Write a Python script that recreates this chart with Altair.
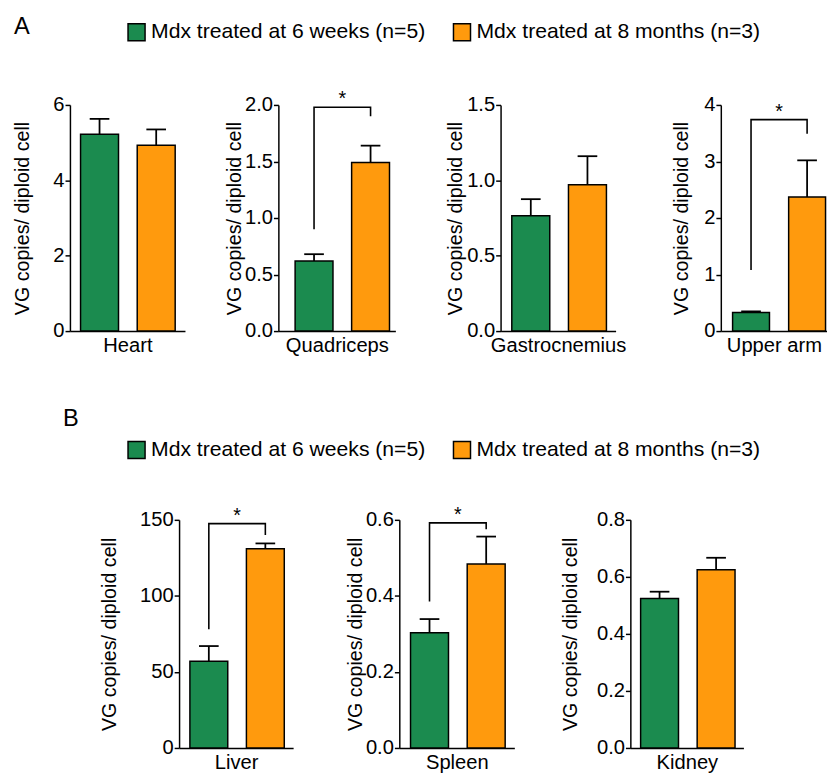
import altair as alt
import pandas as pd

FONT = "Liberation Sans"

# ---------------- data ----------------
GROUPS = ["Mdx treated at 6 weeks (n=5)", "Mdx treated at 8 months (n=3)"]
COLORS = ["#1b8b4f", "#ff9a0d"]

organs = ["Heart", "Quadriceps", "Gastrocnemius", "Upper arm", "Liver", "Spleen", "Kidney"]
mean_6wk = [5.22, 0.62, 0.765, 0.33, 57.0, 0.303, 0.524]
sem_6wk = [0.41, 0.06, 0.11, 0.02, 10.0, 0.036, 0.024]
mean_8mo = [4.93, 1.49, 0.97, 2.37, 131.0, 0.484, 0.625]
sem_8mo = [0.42, 0.15, 0.19, 0.65, 3.5, 0.072, 0.042]
y_max = [6, 2.0, 1.5, 4, 150, 0.6, 0.8]
y_ticks = [
    [0, 2, 4, 6],
    [0, 0.5, 1.0, 1.5, 2.0],
    [0, 0.5, 1.0, 1.5],
    [0, 1, 2, 3, 4],
    [0, 50, 100, 150],
    [0, 0.2, 0.4, 0.6],
    [0, 0.2, 0.4, 0.6, 0.8],
]
y_format = ["d", ".1f", ".1f", "d", "d", ".1f", ".1f"]

# significance brackets (*)
bracket_organs = ["Quadriceps", "Upper arm", "Liver", "Spleen"]
bracket_left = [0.90, 1.08, 78.0, 0.385]
bracket_top = [1.98, 3.74, 147.5, 0.592]
bracket_right = [1.90, 3.49, 140.0, 0.575]

Y_TITLE = "VG copies/ diploid cell"
H_A = 230
H_B = 232


def make_legend(ly):
    return alt.Legend(
        orient="none", legendX=57, legendY=ly, direction="horizontal", title=None,
        symbolType="square", symbolSize=300, symbolStrokeColor="black",
        symbolStrokeWidth=1.5, symbolOpacity=1, labelFontSize=21.5, labelFont=FONT,
        labelColor="black", labelOffset=4, columnPadding=25, labelLimit=400, padding=0,
    )


def panel(i, width, height, p_inner, p_outer, align, title_pad, legend_y):
    organ = organs[i]
    df = pd.DataFrame({
        "group": GROUPS,
        "mean": [mean_6wk[i], mean_8mo[i]],
        "top": [mean_6wk[i] + sem_6wk[i], mean_8mo[i] + sem_8mo[i]],
    })
    xscale = alt.Scale(domain=GROUPS, paddingInner=p_inner, paddingOuter=p_outer, align=align)
    yscale = alt.Scale(domain=[0, y_max[i]], nice=False, zero=True)
    xaxis = alt.Axis(
        labels=False, ticks=False, domainColor="black", domainWidth=1.5,
        titleFontSize=20.5, titleFontWeight="normal", titlePadding=5,
        titleColor="black", titleFont=FONT,
    )
    yaxis = alt.Axis(
        values=y_ticks[i], format=y_format[i], grid=False,
        domainColor="black", domainWidth=1.5, tickColor="black", tickWidth=1.5,
        tickSize=5, labelFontSize=20.5, labelFont=FONT, labelColor="black",
        labelPadding=1, labelFlush=False, labelOverlap=False,
        titleFontSize=20, titleFont=FONT, titleFontWeight="normal",
        titleColor="black", titlePadding=title_pad,
    )
    x = alt.X("group:N", scale=xscale, axis=xaxis, title=organ)

    def yenc(field):
        return alt.Y(field, scale=yscale, axis=yaxis, title=Y_TITLE)

    base = alt.Chart(df)
    bars = base.mark_bar(stroke="black", strokeWidth=1.5).encode(
        x=x, y=yenc("mean:Q"),
        color=alt.Color("group:N", scale=alt.Scale(domain=GROUPS, range=COLORS),
                        legend=make_legend(legend_y)),
    )
    err = base.mark_rule(color="black", strokeWidth=1.8).encode(
        x=x, y=yenc("mean:Q"), y2="top:Q")
    cap = base.mark_tick(color="black", thickness=1.8, size=20, opacity=1).encode(
        x=x, y=yenc("top:Q"))
    layers = [bars, err, cap]

    if organ in bracket_organs:
        k = bracket_organs.index(organ)
        dfb = pd.DataFrame({
            "group": [GROUPS[0], GROUPS[0], GROUPS[1], GROUPS[1]],
            "y": [bracket_left[k], bracket_top[k], bracket_top[k], bracket_right[k]],
            "ord": [0, 1, 2, 3],
        })
        line = alt.Chart(dfb).mark_line(color="black", strokeWidth=1.6).encode(
            x=x, y=yenc("y:Q"), order="ord:O")
        step = width / (2 - p_inner + 2 * p_outer)
        dfs = pd.DataFrame({"group": [GROUPS[0]], "y": [bracket_top[k]]})
        star = alt.Chart(dfs).mark_text(
            text="*", fontSize=20, font=FONT, color="black", align="center",
            baseline="alphabetic", dx=step / 2, dy=-2,
        ).encode(x=x, y=yenc("y:Q"))
        layers += [line, star]

    return alt.layer(*layers).properties(width=width, height=height)


LY_A = -85
LY_B = -82

heart = panel(0, 117, H_A, 0.33, 0.18, 0.52, 21, LY_A)
quad = panel(1, 119, H_A, 0.33, 0.20, 0.74, 0, LY_A)
gastro = panel(2, 117, H_A, 0.33, 0.18, 0.55, 1, LY_A)
uarm = panel(3, 108, H_A, 0.342, 0.118, 0.89, 12, LY_A)
liver = panel(4, 116, H_B, 0.33, 0.174, 0.55, 20, LY_B)
spleen = panel(5, 117, H_B, 0.33, 0.18, 0.55, 0, LY_B)
kidney = panel(6, 115, H_B, 0.33, 0.165, 0.55, 16, LY_B)

spacer = alt.Chart(pd.DataFrame({"v": [0]})).mark_point(opacity=0).properties(width=3, height=H_B)

title_a = alt.TitleParams("A", anchor="start", frame="group", fontSize=24, font=FONT,
                          fontWeight="normal", color="black", offset=0, dx=-57, dy=17.5)
title_b = alt.TitleParams("B", anchor="start", frame="group", fontSize=24, font=FONT,
                          fontWeight="normal", color="black", offset=0, dx=-7, dy=-8)

row_a = alt.hconcat(
    heart,
    alt.hconcat(quad, gastro, uarm, spacing=107, bounds="flush"),
    spacing=95, bounds="flush", title=title_a,
)
row_b = alt.hconcat(
    spacer,
    liver,
    alt.hconcat(spleen, kidney, spacing=118, bounds="flush"),
    spacing=108, bounds="flush", title=title_b,
)

chart = (
    alt.vconcat(row_a, row_b, spacing=422, bounds="flush")
    .resolve_scale(color="independent")
    .properties(padding={"left": 4, "top": 0, "right": 0, "bottom": 0})
    .configure(font=FONT)
    .configure_view(stroke=None)
)

chart.save("out.html", embed_options={"renderer": "svg", "actions": False})
